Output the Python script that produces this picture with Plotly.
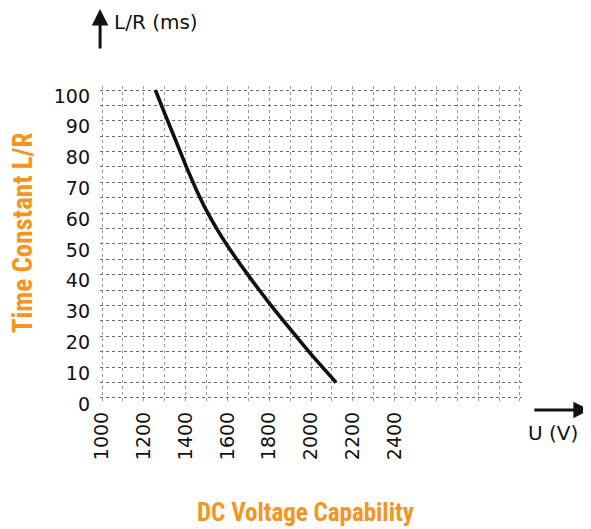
import plotly.graph_objects as go

# Data
voltage = [1255, 1300, 1350, 1400, 1450, 1500, 1550, 1600, 1700, 1800, 1900, 2000, 2120]
time_constant = [100, 92.3, 84, 75.6, 67.8, 60.8, 54.8, 49.4, 39.8, 30.8, 22.4, 14.2, 5]

x_tick_vals = list(range(1000, 3001, 100))
x_tick_text = [str(v) if (v % 200 == 0 and v <= 2400) else "" for v in x_tick_vals]
y_tick_vals = list(range(0, 101, 5))
y_tick_text = [str(v) if v % 10 == 0 else "" for v in y_tick_vals]

ORANGE = "#F7941D"
TICKFONT = dict(family="DejaVu Sans", size=19, color="#111")
TITLE_FAMILY = "Liberation Sans Narrow, Roboto Condensed, Arial Narrow, sans-serif"

fig = go.Figure()
fig.add_trace(go.Scatter(
    x=voltage, y=time_constant, mode="lines",
    line=dict(color="#111", width=3.6, shape="spline", smoothing=0.6),
    showlegend=False, hoverinfo="skip",
))

fig.update_layout(
    width=583, height=521,
    paper_bgcolor="white", plot_bgcolor="white",
    margin=dict(l=91.9, r=68.9, t=78, b=127.9),
    xaxis=dict(
        range=[990, 3010], tickmode="array", tickvals=x_tick_vals, ticktext=x_tick_text,
        tickangle=-90, tickfont=TICKFONT, ticks="", showline=False, zeroline=False,
        showgrid=True, gridcolor="#9a9a9a", griddash="dot", gridwidth=1,
        ticklabelstandoff=6,
    ),
    yaxis=dict(
        range=[-1, 101.3], tickmode="array", tickvals=y_tick_vals, ticktext=y_tick_text,
        tickfont=TICKFONT, ticks="", showline=False, zeroline=False,
        showgrid=True, gridcolor="#6a6a6a", griddash="dot", gridwidth=1,
        ticklabelstandoff=9, ticklabelshift=6,
    ),
    annotations=[
        dict(text="<b>DC Voltage Capability</b>", xref="paper", yref="paper",
             x=0.4858, y=-0.3552, xanchor="center", yanchor="middle",
             showarrow=False, font=dict(family=TITLE_FAMILY, size=25, color=ORANGE)),
        dict(text="<b>Time Constant L/R</b>", xref="paper", yref="paper",
             x=-0.1821, y=0.5334, xanchor="center", yanchor="middle",
             textangle=-90, showarrow=False,
             font=dict(family=TITLE_FAMILY, size=27, color=ORANGE)),
        dict(text="L/R (ms)", xref="paper", yref="paper",
             x=0.0287, y=1.2031, xanchor="left", yanchor="middle",
             showarrow=False, font=dict(family="DejaVu Sans", size=20, color="#111")),
        dict(text="", xref="paper", yref="paper", x=0.0002, y=1.2475,
             showarrow=True, ax=0, ay=42, arrowhead=2, arrowsize=1.1,
             arrowwidth=3, arrowcolor="#111"),
        dict(text="U (V)", xref="paper", yref="paper",
             x=1.0732, y=-0.1013, xanchor="center", yanchor="middle",
             showarrow=False, font=dict(family="DejaVu Sans", size=20, color="#111")),
        dict(text="", xref="paper", yref="paper", x=1.1608, y=-0.0283,
             showarrow=True, ax=-57, ay=0, arrowhead=2, arrowsize=1.1,
             arrowwidth=3, arrowcolor="#111"),
    ],
)

fig.write_html("out.html")
